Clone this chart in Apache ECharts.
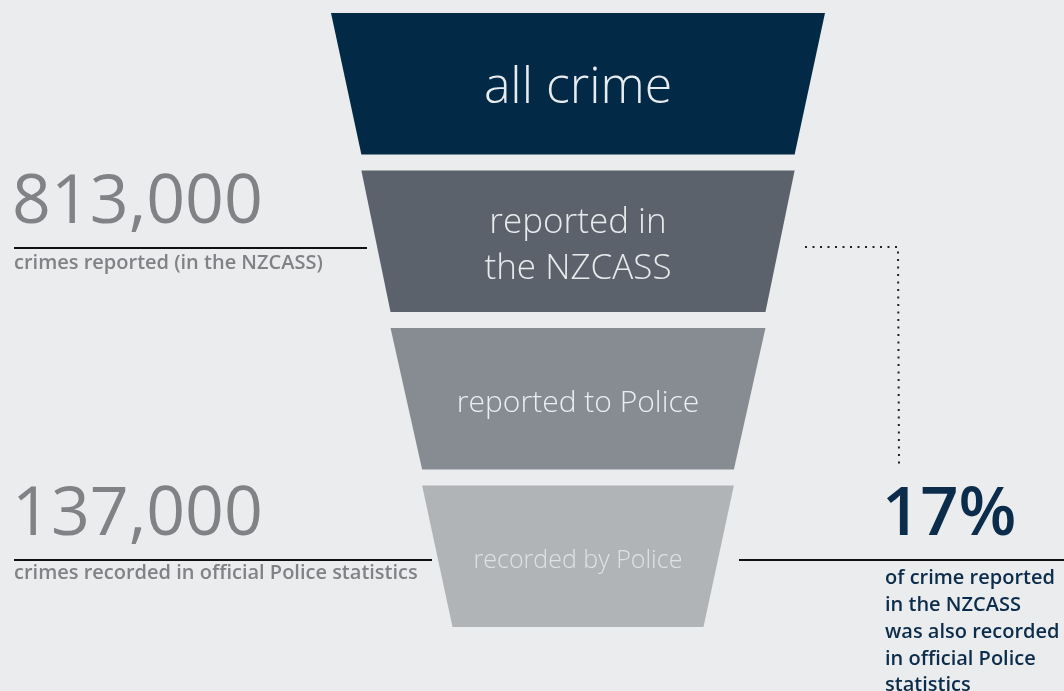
<!DOCTYPE html>
<html>
<head>
<meta charset="utf-8">
<script src="https://cdn.jsdelivr.net/npm/echarts@6/dist/echarts.min.js"></script>
<style>
html,body{margin:0;padding:0;background:#ebecee;}
#chart{width:1064px;height:691px;}
</style>
</head>
<body>
<div id="chart"></div>
<script>
// Funnel stages (top to bottom) and their relative widths
const stages = ['all crime', 'reported in\nthe NZCASS', 'reported to Police', 'recorded by Police'];
const stageWidths = [100, 75, 51, 25];
const stageColors = ['#022a47', '#5b626c', '#878b92', '#b1b4b7'];
const stageFontSizes = [50, 35, 30, 25];
const stageTextColors = ['#e8ecef', '#e8eaec', '#eceef0', '#dfe1e3'];

// Annotations
const leftFigures = ['813,000', '137,000'];
const leftCaptions = ['crimes reported (in the NZCASS)', 'crimes recorded in official Police statistics'];
const rightFigure = '17%';
const rightCaption = ['of crime reported', 'in the NZCASS', 'was also recorded', 'in official Police', 'statistics'];

const chart = echarts.init(document.getElementById('chart'), null, {renderer: 'canvas'});

const FONT = "'Open Sans', 'Lato', sans-serif";

const option = {
  backgroundColor: '#ebecee',
  animation: false,
  series: [{
    type: 'funnel',
    left: 331,
    top: 13,
    width: 494,
    height: 614,
    min: 0,
    max: 100,
    minSize: 251,
    maxSize: 494,
    sort: 'none',
    gap: 16,
    funnelAlign: 'center',
    emphasis: {disabled: true},
    itemStyle: {borderWidth: 0},
    label: {
      show: true,
      position: 'inside',
      formatter: '{b}',
      fontFamily: FONT,
      fontWeight: 300
    },
    labelLayout: {dy: 5},
    labelLine: {show: false},
    data: stages.map((s, i) => ({
      name: s,
      value: stageWidths[i],
      itemStyle: {color: stageColors[i]},
      label: {fontSize: stageFontSizes[i], color: stageTextColors[i], lineHeight: Math.round(stageFontSizes[i] * 1.3)}
    }))
  }],
  graphic: [
    // 813,000 block
    {type: 'text', left: 12, top: 170, style: {text: leftFigures[0], font: "500 68px " + FONT, fill: '#818285'}},
    {type: 'line', shape: {x1: 14, y1: 248, x2: 367, y2: 248}, style: {stroke: '#111', lineWidth: 2}},
    {type: 'text', left: 14, top: 253, style: {text: leftCaptions[0], font: "600 20px " + FONT, fill: '#808285'}},
    // 137,000 block
    {type: 'text', left: 12, top: 482, style: {text: leftFigures[1], font: "500 68px " + FONT, fill: '#818285'}},
    {type: 'line', shape: {x1: 14, y1: 560, x2: 432, y2: 560}, style: {stroke: '#111', lineWidth: 2}},
    {type: 'text', left: 14, top: 563, style: {text: leftCaptions[1], font: "600 20px " + FONT, fill: '#808285'}},
    // dotted connector
    {type: 'polyline', shape: {points: [[805, 247], [898, 247], [899, 464]]}, style: {stroke: '#222', lineWidth: 2, lineDash: [2, 5.5], fill: null}},
    // 17% block
    {type: 'text', left: 882, top: 482, style: {text: rightFigure, font: "600 67px " + FONT, fill: '#0b2c4a'}},
    {type: 'line', shape: {x1: 739, y1: 560, x2: 1064, y2: 560}, style: {stroke: '#111', lineWidth: 2}},
    {type: 'text', left: 885, top: 565, style: {text: rightCaption.join('\n'), font: "600 20px " + FONT, fill: '#0b2c4a', lineHeight: 26.8}}
  ]
};
chart.setOption(option);
</script>
</body>
</html>
